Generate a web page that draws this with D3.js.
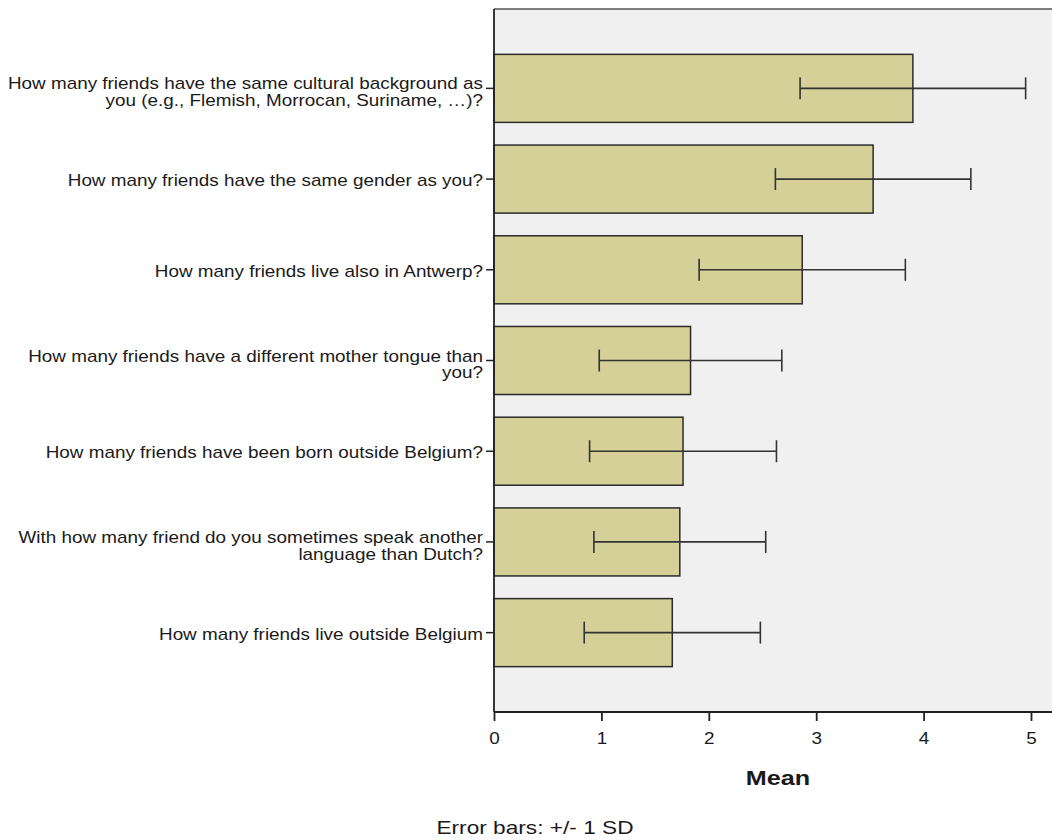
<!DOCTYPE html>
<html>
<head>
<meta charset="utf-8">
<script src="https://cdn.jsdelivr.net/npm/d3@7"></script>
<style>
  html, body { margin: 0; padding: 0; background: #ffffff; }
  svg { display: block; }
  text { font-family: "Liberation Sans", Arial, sans-serif; fill: #1a1a1a; }
</style>
</head>
<body>
<svg id="chart" width="1052" height="840"></svg>
<script>
const categories = [
  "How many friends have the same cultural background as\nyou (e.g., Flemish, Morrocan, Suriname, \u2026)?",
  "How many friends have the same gender as you?",
  "How many friends live also in Antwerp?",
  "How many friends have a different mother tongue than\nyou?",
  "How many friends have been born outside Belgium?",
  "With how many friend do you sometimes speak another\nlanguage than Dutch?",
  "How many friends live outside Belgium"
];
const means = [3.90, 3.53, 2.87, 1.83, 1.76, 1.73, 1.66];
const sds   = [1.05, 0.91, 0.96, 0.85, 0.87, 0.80, 0.82];
const xTicks = [0, 1, 2, 3, 4, 5];
const xTitle = "Mean";
const footnote = "Error bars: +/- 1 SD";

const data = categories.map((c, i) => ({ cat: c, mean: means[i], sd: sds[i] }));

const svg = d3.select("#chart");
const plotLeft = 494, plotTop = 9, plotBottom = 712, plotRight = 1062;
const SX = 1.18; // horizontal stretch of the reference text

const x = d3.scaleLinear().domain([0, 5]).range([plotLeft, 1031]);
const y = d3.scaleBand().domain(categories).range([plotTop, plotBottom])
  .paddingInner(0.25).paddingOuter(0.5);

// plot background
svg.append("rect")
  .attr("x", plotLeft).attr("y", plotTop)
  .attr("width", plotRight - plotLeft).attr("height", plotBottom - plotTop)
  .attr("fill", "#f0f0f0");

// top border
svg.append("line")
  .attr("x1", plotLeft).attr("x2", plotRight)
  .attr("y1", plotTop).attr("y2", plotTop)
  .attr("stroke", "#555").attr("stroke-width", 1.5);

// bars
svg.append("g").selectAll("rect").data(data).join("rect")
  .attr("x", x(0))
  .attr("y", d => y(d.cat))
  .attr("width", d => x(d.mean) - x(0))
  .attr("height", y.bandwidth())
  .attr("fill", "#d4d098")
  .attr("stroke", "#2b2b2b")
  .attr("stroke-width", 1.5);

// error bars
const eb = svg.append("g").attr("stroke", "#333").attr("stroke-width", 1.6).attr("fill", "none");
data.forEach(d => {
  const cy = y(d.cat) + y.bandwidth() / 2;
  const lo = x(d.mean - d.sd), hi = x(d.mean + d.sd);
  eb.append("line").attr("x1", lo).attr("x2", hi).attr("y1", cy).attr("y2", cy);
  eb.append("line").attr("x1", lo).attr("x2", lo).attr("y1", cy - 11).attr("y2", cy + 11);
  eb.append("line").attr("x1", hi).attr("x2", hi).attr("y1", cy - 11).attr("y2", cy + 11);
});

// x axis
const xAxis = svg.append("g")
  .attr("transform", `translate(0,${plotBottom})`)
  .call(d3.axisBottom(x).tickValues(xTicks).tickFormat(d3.format("d")).tickSize(9).tickSizeOuter(0));
xAxis.select(".domain").attr("stroke", "#222").attr("stroke-width", 1.8)
  .attr("d", `M${plotLeft},0H${plotRight}`);
xAxis.selectAll(".tick line").attr("stroke", "#222").attr("stroke-width", 1.8);
xAxis.selectAll(".tick text")
  .attr("font-size", 16).attr("fill", "#1a1a1a")
  .attr("y", 0).attr("dy", null)
  .attr("transform", `translate(0,32) scale(${SX},1)`);
xAxis.attr("font-family", null);

// y axis
const yAxis = svg.append("g")
  .attr("transform", `translate(${plotLeft},0)`)
  .call(d3.axisLeft(y).tickSize(8).tickSizeOuter(0).tickFormat(""));
yAxis.select(".domain").attr("stroke", "#222").attr("stroke-width", 1.8)
  .attr("d", `M0,${plotTop}V${plotBottom}`);
yAxis.selectAll(".tick line").attr("stroke", "#222").attr("stroke-width", 1.5);
yAxis.selectAll(".tick text").remove();

// category labels
const labG = svg.append("g");
categories.forEach(c => {
  const cy = y(c) + y.bandwidth() / 2;
  const lines = c.split("\n");
  const base = lines.length > 1 ? cy + 1 : cy + 7;
  const t = labG.append("text")
    .attr("text-anchor", "end")
    .attr("font-size", 16)
    .attr("transform", `translate(483,${base}) scale(${SX},1)`);
  lines.forEach((ln, i) => {
    t.append("tspan").attr("x", 0).attr("y", i * 17).text(ln);
  });
});

// x title
svg.append("text")
  .attr("text-anchor", "middle")
  .attr("font-size", 20).attr("font-weight", "bold")
  .attr("transform", `translate(778,785) scale(1.26,1)`)
  .text(xTitle);

// footnote
svg.append("text")
  .attr("text-anchor", "middle")
  .attr("font-size", 18)
  .attr("transform", `translate(535,834) scale(1.26,1)`)
  .text(footnote);
</script>
</body>
</html>
